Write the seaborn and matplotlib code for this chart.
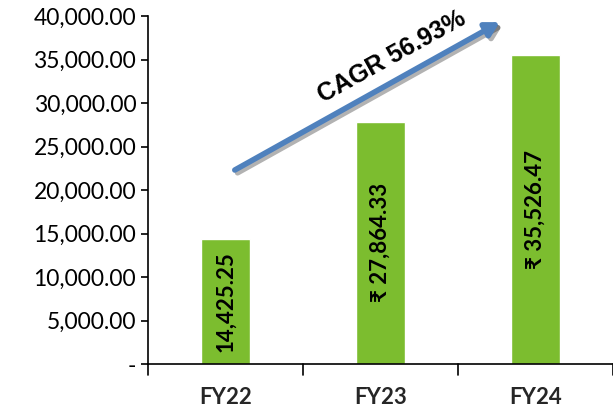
import seaborn as sns
import matplotlib.pyplot as plt
import matplotlib.patheffects as pe
from matplotlib.ticker import FuncFormatter

years = ["FY22", "FY23", "FY24"]
revenue = [14425.25, 27864.33, 35526.47]
bar_labels = ["14,425.25", "\u20b9 27,864.33", "\u20b9 35,526.47"]
cagr_text = "CAGR 56.93%"

sns.set_style("white")
plt.rcParams['font.family'] = ['Lato', 'DejaVu Sans']

fig = plt.figure(figsize=(6.13, 4.12), dpi=100)
ax = fig.add_axes([0.2414, 0.1165, 0.7586, 0.8445])

sns.barplot(x=years, y=revenue, color="#7CBD2F", saturation=1, width=0.31, ax=ax)

ax.set_ylim(0, 40000)
ax.set_xlim(-0.5, 2.5)
ax.set_yticks(range(0, 40001, 5000))
ax.yaxis.set_major_formatter(FuncFormatter(lambda v, p: "-" if v == 0 else f"{v:,.2f}"))
ax.tick_params(axis="y", labelsize=16.5, length=5, width=1.2, direction="out", left=True, colors="black")
ax.set_xticks([0, 1, 2])
ax.set_xticklabels(years, fontweight="bold", fontsize=16)
ax.tick_params(axis="x", bottom=False, pad=13)
for xb in [-0.5, 0.5, 1.5, 2.5]:
    ax.plot([xb, xb], [0, -1300], color="black", lw=1.2, clip_on=False)

sns.despine(ax=ax, top=True, right=True)
for s in ["left", "bottom"]:
    ax.spines[s].set_linewidth(1.2)
    ax.spines[s].set_color("black")

for i, (v, lab) in enumerate(zip(revenue, bar_labels)):
    ax.text(i, v / 2, lab, rotation=90, ha="center", va="center",
            fontsize=16, fontweight="bold", color="black")

ax.annotate("", xy=(1.77, 39300), xytext=(0.06, 22300),
            arrowprops=dict(arrowstyle="-|>,head_length=0.8,head_width=0.45",
                            color="#4F81BD", lw=4, shrinkA=0, shrinkB=0,
                            path_effects=[pe.SimpleLineShadow(offset=(2, -2), alpha=0.3), pe.Normal()]),
            annotation_clip=False)
ax.text(1.07, 35300, cagr_text, rotation=29, ha="center", va="center",
        fontsize=18, fontweight="bold", color="black",
        family=["Liberation Sans", "DejaVu Sans"])

fig.savefig("out.png", dpi=100)
